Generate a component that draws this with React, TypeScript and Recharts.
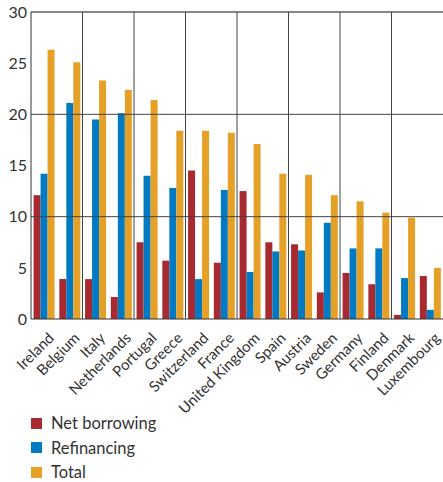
import React from "react";
import { BarChart, Bar, XAxis, YAxis, ReferenceLine } from "recharts";

const categories = [
  "Ireland", "Belgium", "Italy", "Netherlands", "Portugal", "Greece", "Switzerland", "France",
  "United Kingdom", "Spain", "Austria", "Sweden", "Germany", "Finland", "Denmark", "Luxembourg",
];
const netBorrowing = [12.1, 3.9, 3.9, 2.15, 7.5, 5.7, 14.5, 5.5, 12.5, 7.5, 7.3, 2.6, 4.5, 3.4, 0.4, 4.2];
const refinancing = [14.2, 21.1, 19.5, 20.1, 14.0, 12.8, 3.9, 12.6, 4.6, 6.6, 6.7, 9.4, 6.9, 6.9, 4.0, 0.9];
const total = [26.3, 25.1, 23.3, 22.4, 21.4, 18.4, 18.4, 18.2, 17.1, 14.2, 14.1, 12.1, 11.5, 10.4, 9.9, 5.0];

const yTicks = [0, 5, 10, 15, 20, 25, 30];
const minorTicks = [5, 15, 25];
const gridValues = [10, 20, 30];
const pairBoundaries = [2, 4, 6, 8, 10, 12, 14];
const innerBoundaries = [1, 3, 5, 7, 9, 11, 13, 15];

const series = [
  { key: "netBorrowing", name: "Net borrowing", color: "#a82a31" },
  { key: "refinancing", name: "Refinancing", color: "#007ac3" },
  { key: "total", name: "Total", color: "#e5a027" },
];

const data = categories.map((c, i) => ({
  name: c,
  idx: i + 0.5,
  netBorrowing: netBorrowing[i],
  refinancing: refinancing[i],
  total: total[i],
}));

const FONT = "Lato, 'Open Sans', sans-serif";

const renderXTick = (props: any) => {
  const { x, y, payload } = props;
  return (
    <g transform={`translate(${x + 3},${y + 4})`}>
      <text
        x={0}
        y={0}
        dy="0.75em"
        textAnchor="end"
        transform="rotate(-45)"
        fill="#333"
        fontSize={15}
        fontFamily={FONT}
      >
        {payload.value}
      </text>
    </g>
  );
};

const renderEmpty = () => <g />;

export default function App() {
  return (
    <div style={{ position: "absolute", left: 0, top: 0, width: 443, height: 482, background: "#fff" }}>
      <BarChart
        width={443}
        height={482}
        data={data}
        margin={{ top: 12, right: 0, bottom: 0, left: 0 }}
        barCategoryGap="10%"
        barGap={0}
      >
        <XAxis
          dataKey="name"
          xAxisId="cat"
          interval={0}
          height={163}
          tickLine={false}
          axisLine={{ stroke: "#333" }}
          tick={renderXTick}
        />
        <XAxis
          dataKey="idx"
          xAxisId="num"
          type="number"
          domain={[0, 16]}
          allowDataOverflow
          ticks={innerBoundaries}
          mirror
          tickSize={7}
          height={0}
          axisLine={false}
          tickLine={{ stroke: "#555" }}
          tick={renderEmpty}
        />
        <YAxis
          yAxisId="left"
          domain={[0, 30]}
          ticks={yTicks}
          width={31}
          tickSize={0}
          tickMargin={4}
          axisLine={{ stroke: "#333" }}
          tickLine={false}
          tick={{ fill: "#333", fontSize: 16, fontFamily: FONT }}
        />
        <YAxis
          yAxisId="lt"
          domain={[0, 30]}
          ticks={minorTicks}
          mirror
          width={0}
          tickSize={10}
          axisLine={false}
          tickLine={{ stroke: "#666" }}
          tick={renderEmpty}
        />
        <YAxis
          yAxisId="rt"
          orientation="right"
          domain={[0, 30]}
          ticks={minorTicks}
          mirror
          width={0}
          tickSize={10}
          axisLine={false}
          tickLine={{ stroke: "#666" }}
          tick={renderEmpty}
        />
        {gridValues.map((v) => (
          <ReferenceLine key={"h" + v} y={v} yAxisId="left" xAxisId="num" stroke={v === 30 ? "#888" : "#444"} strokeWidth={v === 30 ? 2 : 1} />
        ))}
        {pairBoundaries.map((v) => (
          <ReferenceLine key={"v" + v} x={v} xAxisId="num" yAxisId="left" stroke="#444" strokeWidth={1} />
        ))}
        {series.map((s) => (
          <Bar
            key={s.key}
            dataKey={s.key}
            name={s.name}
            fill={s.color}
            xAxisId="cat"
            yAxisId="left"
            isAnimationActive={false}
          />
        ))}
      </BarChart>
      {series.map((s, i) => (
        <div
          key={s.key}
          style={{
            position: "absolute",
            left: 31,
            top: 411 + i * 24.5,
            height: 24,
            display: "flex",
            alignItems: "center",
            fontFamily: FONT,
            fontSize: 16.5,
            color: "#333",
            whiteSpace: "nowrap",
          }}
        >
          <span style={{ display: "inline-block", width: 11, height: 11, background: s.color, marginRight: 9 }} />
          {s.name}
        </div>
      ))}
    </div>
  );
}
